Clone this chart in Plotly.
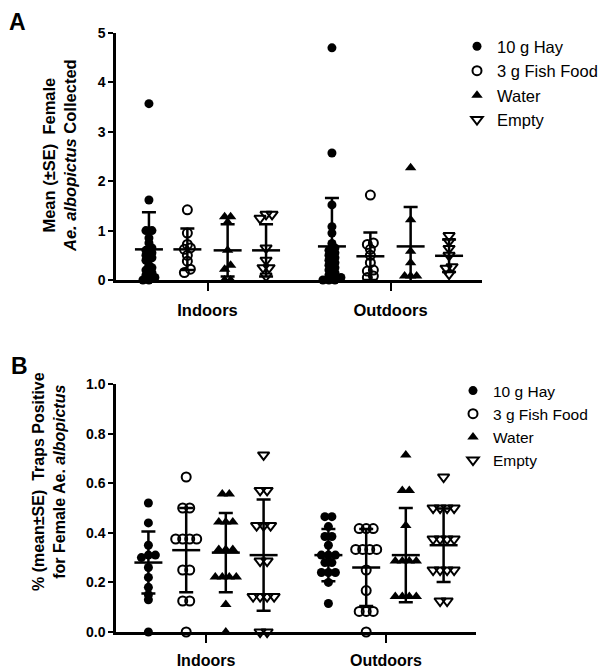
import plotly.graph_objects as go

# ---------------- data ----------------
categories = ["Indoors", "Outdoors"]
treatments = ["10 g Hay", "3 g Fish Food", "Water", "Empty"]

# Panel A: mean female Ae. albopictus collected per trap
a_in_hay = [3.57, 1.62, 1.00, 1.00, 0.85, 0.75, 0.65, 0.60, 0.55, 0.50, 0.45, 0.40,
            0.30, 0.25, 0.20, 0.15, 0.10, 0.05, 0.00, 0.00]
a_in_fish = [1.42, 0.95, 0.72, 0.65, 0.62, 0.50, 0.38, 0.22, 0.15]
a_in_water = [1.28, 1.28, 1.17, 0.60, 0.30, 0.22, 0.00, 0.00]
a_in_empty = [1.33, 1.33, 1.25, 0.65, 0.40, 0.25, 0.25, 0.08]
a_out_hay = [4.70, 2.57, 1.52, 1.08, 0.95, 0.74, 0.65, 0.60, 0.55, 0.50, 0.45, 0.40,
             0.35, 0.30, 0.25, 0.20, 0.15, 0.10, 0.05, 0.00, 0.00, 0.00]
a_out_fish = [1.72, 0.75, 0.72, 0.62, 0.50, 0.35, 0.20, 0.18, 0.08, 0.05]
a_out_water = [2.27, 1.22, 0.58, 0.35, 0.08, 0.08, 0.08]
a_out_empty = [0.90, 0.78, 0.64, 0.50, 0.27, 0.24, 0.12]
a_mean_in = [0.62, 0.62, 0.60, 0.60]
a_sd_in = [0.75, 0.42, 0.53, 0.53]
a_mean_out = [0.68, 0.48, 0.68, 0.49]
a_sd_out = [0.98, 0.48, 0.80, 0.33]

# Panel B: proportion of traps positive for female Ae. albopictus
b_in_hay = [0.52, 0.44, 0.35, 0.31, 0.31, 0.30, 0.26, 0.22, 0.18, 0.15, 0.13, 0.00]
b_in_fish = [0.625, 0.50, 0.50, 0.375, 0.375, 0.375, 0.375, 0.25, 0.25, 0.125, 0.125, 0.00]
b_in_water = [0.556, 0.556, 0.444, 0.444, 0.444, 0.333, 0.333, 0.333,
              0.222, 0.222, 0.222, 0.222, 0.111, 0.00]
b_in_empty = [0.714, 0.571, 0.571, 0.429, 0.429, 0.429, 0.286, 0.286,
              0.143, 0.143, 0.143, 0.143, 0.00, 0.00]
b_out_hay = [0.465, 0.465, 0.425, 0.385, 0.385, 0.35, 0.31, 0.31, 0.31, 0.28, 0.28,
             0.24, 0.24, 0.24, 0.20, 0.115]
b_out_fish = [0.417, 0.417, 0.417, 0.333, 0.333, 0.333, 0.333, 0.25, 0.167,
              0.083, 0.083, 0.083, 0.00]
b_out_water = [0.714, 0.571, 0.571, 0.429, 0.286, 0.286, 0.286, 0.286,
               0.143, 0.143, 0.143, 0.143]
b_out_empty = [0.625, 0.50, 0.50, 0.50, 0.50, 0.375, 0.375, 0.375, 0.375,
               0.25, 0.25, 0.25, 0.25, 0.125, 0.125]
b_mean_in = [0.28, 0.33, 0.32, 0.31]
b_sd_in = [0.125, 0.17, 0.16, 0.224]
b_mean_out = [0.31, 0.26, 0.31, 0.35]
b_sd_out = [0.105, 0.155, 0.19, 0.148]

# ---------------- layout geometry ----------------
# page body has an 8 px margin; all positions below are window pixels
OFF = 8
WIN_W, WIN_H = 608, 670
W, H = WIN_W - OFF, WIN_H - OFF


def px(xw):
    return (xw - OFF) / W


def py(yw):
    return 1 - (yw - OFF) / H


PL = 116
A_R, B_R = 482, 476
A_T, A_B = 33, 280
B_T, B_B = 384, 632
group_offsets = [-0.32, -0.11, 0.11, 0.32]
symbols = ["circle", "circle-open", "triangle-up", "triangle-down-open"]
msizes = [9, 9, 10, 10]
FONT = "Liberation Sans, Arial, sans-serif"


def swarm(vals, ypx_per_unit, xunit_per_px, row_px, step_px):
    idx = sorted(range(len(vals)), key=lambda i: vals[i])
    rows = []
    for i in idx:
        if rows and (vals[i] - vals[rows[-1][0]]) * ypx_per_unit <= row_px:
            rows[-1].append(i)
        else:
            rows.append([i])
    off = [0.0] * len(vals)
    for r in rows:
        k = len(r)
        for j, i in enumerate(r):
            off[i] = (j - (k - 1) / 2) * step_px * xunit_per_px
    return off


fig = go.Figure()

panels = [
    dict(xa="x", ya="y", legend="legend",
         data=[[a_in_hay, a_in_fish, a_in_water, a_in_empty],
               [a_out_hay, a_out_fish, a_out_water, a_out_empty]],
         means=[a_mean_in, a_mean_out], sds=[a_sd_in, a_sd_out],
         ypu=(A_B - A_T) / 5.0, xupp=2.0 / (A_R - PL), row=4.5, step=6.0),
    dict(xa="x2", ya="y2", legend="legend2",
         data=[[b_in_hay, b_in_fish, b_in_water, b_in_empty],
               [b_out_hay, b_out_fish, b_out_water, b_out_empty]],
         means=[b_mean_in, b_mean_out], sds=[b_sd_in, b_sd_out],
         ypu=(B_B - B_T) / 1.0, xupp=2.0 / (B_R - PL), row=4.0, step=7.0),
]

for p in panels:
    # points
    for t, name in enumerate(treatments):
        xs, ys = [], []
        for c in range(len(categories)):
            vals = p["data"][c][t]
            offs = swarm(vals, p["ypu"], p["xupp"], p["row"], p["step"])
            xs += [c + group_offsets[t] + o for o in offs]
            ys += list(vals)
        open_m = symbols[t].endswith("open")
        fig.add_trace(go.Scatter(
            x=xs, y=ys, mode="markers", name=name,
            xaxis=p["xa"], yaxis=p["ya"], legend=p["legend"],
            legendgroup=p["legend"] + str(t),
            marker=dict(symbol=symbols[t], size=msizes[t], color="black",
                        line=dict(color="black", width=2 if open_m else 0)),
            cliponaxis=False, hoverinfo="skip"))
    # mean + SD bars
    for t in range(len(treatments)):
        for c in range(len(categories)):
            fig.add_trace(go.Scatter(
                x=[c + group_offsets[t]], y=[p["means"][c][t]], mode="markers",
                xaxis=p["xa"], yaxis=p["ya"], showlegend=False,
                marker=dict(symbol="line-ew", size=20, color="black",
                            line=dict(color="black", width=2.5)),
                error_y=dict(type="data", array=[p["sds"][c][t]], color="black",
                             thickness=2.5, width=7, visible=True),
                cliponaxis=True, hoverinfo="skip"))

axis_common = dict(showline=True, linewidth=2.5, linecolor="black", showgrid=False,
                   zeroline=False, ticks="outside", tickcolor="black", tickwidth=2,
                   automargin=False)

fig.update_layout(
    width=W, height=H, margin=dict(l=0, r=0, t=0, b=0, autoexpand=False),
    paper_bgcolor="white", plot_bgcolor="white",
    font=dict(family=FONT, color="black"),
    xaxis=dict(domain=[px(PL), px(A_R)], range=[-0.5, 1.5], tickvals=[0, 1],
               ticktext=categories, ticklen=8, anchor="y",
               tickfont=dict(size=16.5, weight="bold"), ticklabelstandoff=5,
               **axis_common),
    yaxis=dict(domain=[py(A_B), py(A_T)], range=[0, 5], dtick=1, anchor="x",
               ticklen=5, tickfont=dict(size=14, weight="bold"), **axis_common),
    xaxis2=dict(domain=[px(PL), px(B_R)], range=[-0.5, 1.5], tickvals=[0, 1],
                ticktext=categories, ticklen=8, anchor="y2",
                tickfont=dict(size=16, weight="bold"), ticklabelstandoff=4,
                **axis_common),
    yaxis2=dict(domain=[py(B_B), py(B_T)], range=[0, 1.0], dtick=0.2,
                tickformat=".1f", anchor="x2", ticklen=5,
                tickfont=dict(size=14, weight="bold"), **axis_common),
    legend=dict(x=px(457), y=py(29), xanchor="left", yanchor="top",
                font=dict(size=16.5), traceorder="grouped", tracegroupgap=0,
                bgcolor="rgba(0,0,0,0)", itemsizing="trace"),
    legend2=dict(x=px(453), y=py(374), xanchor="left", yanchor="top",
                 font=dict(size=15.5), traceorder="grouped", tracegroupgap=0,
                 bgcolor="rgba(0,0,0,0)", itemsizing="trace"),
    showlegend=True,
    annotations=[
        dict(text="A", x=px(17), y=py(22), xref="paper", yref="paper",
             xanchor="center", yanchor="middle",
             showarrow=False, font=dict(size=23, weight="bold")),
        dict(text="B", x=px(19), y=py(366), xref="paper", yref="paper",
             xanchor="center", yanchor="middle",
             showarrow=False, font=dict(size=23, weight="bold")),
        dict(text="Mean (±SE)  Female<br><i>Ae. albopictus</i> Collected",
             x=px(59), y=py(156), xref="paper", yref="paper", textangle=-90,
             xanchor="center", yanchor="middle",
             showarrow=False, font=dict(size=16.5, weight="bold")),
        dict(text="% (mean±SE)  Traps Positive<br>for Female Ae. <i>albopictus</i>",
             x=px(49), y=py(482), xref="paper", yref="paper", textangle=-90,
             xanchor="center", yanchor="middle",
             showarrow=False, font=dict(size=16, weight="bold")),
    ],
)

fig.write_html("out.html")
